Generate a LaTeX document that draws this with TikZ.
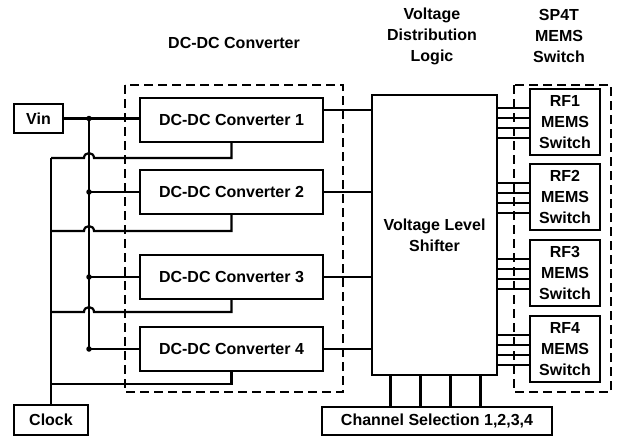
\documentclass[tikz,border=0pt]{standalone}
\usepackage{fontspec}
\setmainfont{Liberation Sans}
\usetikzlibrary{calc}
\begin{document}
\begin{tikzpicture}[x=1pt,y=-1pt,
  font=\bfseries\fontsize{16}{21}\selectfont,
  box/.style={draw, line width=2.4pt, inner sep=0pt, align=center},
  wire/.style={line width=2.2pt},
  frame/.style={draw, line width=2.2pt, dash pattern=on 9pt off 5pt},
  jdot/.style={circle, fill, inner sep=0pt, minimum size=5.5pt},
  ttl/.style={align=center}]
\useasboundingbox (0,0) rectangle (618,437);
% frames
\draw[frame] (125,85) rectangle (343,392);
\draw[frame] (514,85) rectangle (611,392);
% titles
\node[ttl] (t1) at (234,43) {DC-DC Converter};
\node[ttl] (t2) at (432,36) {Voltage\\Distribution\\Logic};
\node[ttl] (t3) at (559,36) {SP4T\\MEMS\\Switch};
% boxes
\node[box, minimum width=49pt, minimum height=29pt] (vin) at (38.5,118.5) {Vin};
\node[box, minimum width=74pt, minimum height=30pt] (clock) at (51,420) {Clock};
\node[box, minimum width=183pt, minimum height=44pt] (dc1) at (231.5,120) {DC-DC Converter 1};
\node[box, minimum width=183pt, minimum height=44pt] (dc2) at (231.5,192) {DC-DC Converter 2};
\node[box, minimum width=183pt, minimum height=44pt] (dc3) at (231.5,277) {DC-DC Converter 3};
\node[box, minimum width=183pt, minimum height=44pt] (dc4) at (231.5,349) {DC-DC Converter 4};
\node[box, minimum width=125pt, minimum height=280pt] (vls) at (434.5,235) {};
\node[align=center] (vlst) at (vls.center) {Voltage Level\\Shifter};
\node[box, minimum width=230pt, minimum height=28pt] (chan) at (437,421) {Channel Selection 1,2,3,4};
\node[box, minimum width=70pt, minimum height=66pt] (rf1) at (565,122) {RF1\\MEMS\\Switch};
\node[box, minimum width=70pt, minimum height=66pt] (rf2) at (565,197) {RF2\\MEMS\\Switch};
\node[box, minimum width=70pt, minimum height=66pt] (rf3) at (565,273) {RF3\\MEMS\\Switch};
\node[box, minimum width=70pt, minimum height=66pt] (rf4) at (565,349) {RF4\\MEMS\\Switch};
% bus coordinates
\coordinate (busx) at (89,0);
\coordinate (j1) at (vin.east -| busx);
\coordinate (j2) at (dc2.west -| busx);
\coordinate (j3) at (dc3.west -| busx);
\coordinate (j4) at (dc4.west -| busx);
% Vin distribution
\draw[wire] (vin.east) -- (vin.east -| dc1.west);
\draw[wire] (j1) -- (j4) -- (dc4.west);
\draw[wire] (j2) -- (dc2.west);
\draw[wire] (j3) -- (dc3.west);
\foreach \j in {j1,j2,j3,j4} \node[jdot] at (\j) {};
% clock feeds
\coordinate (f1) at (0,158);
\coordinate (f2) at (0,231);
\coordinate (f3) at (0,312);
\coordinate (f4) at (0,384);
\foreach \d/\f in {dc1/f1,dc2/f2,dc3/f3}{
  \coordinate (h) at (busx |- \f);
  \draw[wire] (\d.south) -- (\d.south |- \f) -- ($(h)+(5,0)$)
    .. controls ($(h)+(5,-6.5)$) and ($(h)+(-5,-6.5)$) .. ($(h)+(-5,0)$)
    -- (clock.north |- \f);
}
\draw[wire] (dc4.south) -- (dc4.south |- f4) -- (clock.north |- f4);
\draw[wire] (clock.north) -- (clock.north |- f1);
% converter outputs
\coordinate (o1) at ($(dc1.east)+(0,-10)$);
\draw[wire] (o1) -- (o1 -| vls.west);
\draw[wire] (dc2.east) -- (dc2.east -| vls.west);
\draw[wire] (dc3.east) -- (dc3.east -| vls.west);
\draw[wire] (dc4.east) -- (dc4.east -| vls.west);
% shifter to switches
\foreach \r in {rf1,rf2,rf3,rf4}{
  \foreach \d in {-14,-4,6,16}{
    \coordinate (tmp) at ($(\r.west)+(0,\d)$);
    \draw[wire] (tmp) -- (tmp -| vls.east);
  }
}
% channel selection
\foreach \d in {-44,-14,16,46}{
  \coordinate (tmp) at ($(vls.south)+(\d,0)$);
  \draw[wire] (tmp) -- (tmp |- chan.north);
}
\end{tikzpicture}
\end{document}
